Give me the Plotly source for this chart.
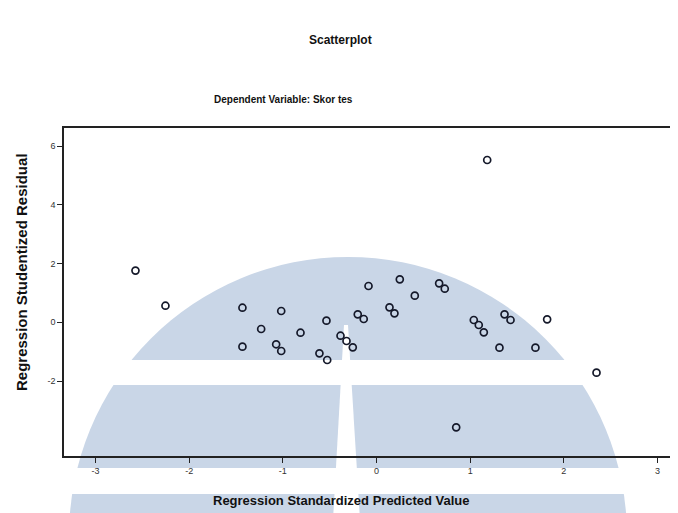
import plotly.graph_objects as go

# Data
predicted = [-2.573, -2.253, -1.431, -1.431, -1.231, -1.071, -1.017, -1.017, -0.811,
             -0.609, -0.526, -0.534, -0.384, -0.320, -0.253, -0.200, -0.136, -0.085,
             0.139, 0.192, 0.249, 0.409, 0.669, 0.729, 1.039, 1.092, 1.146, 1.182,
             0.851, 1.313, 1.367, 1.431, 1.697, 1.822, 2.349]
residual = [1.76, 0.563, 0.495, -0.832, -0.23, -0.75, -0.979, 0.383, -0.356,
            -1.057, -1.285, 0.053, -0.458, -0.638, -0.853, 0.271, 0.111, 1.234,
            0.509, 0.305, 1.462, 0.904, 1.326, 1.142, 0.077, -0.094, -0.342, 5.523,
            -3.576, -0.866, 0.271, 0.077, -0.866, 0.100, -1.717]
x_ticks = [-3, -2, -1, 0, 1, 2, 3]
y_ticks = [-2, 0, 2, 4, 6]

OFF = 8  # page body margin
W, H = 678 - OFF, 513 - OFF
L, R, T, B = 64 - OFF, 678 - OFF, 128 - OFF, 456 - OFF  # plot area in figure pixels


def px(xp):
    return (xp - OFF - L) / (R - L)


def py(yp):
    return (B - (yp - OFF)) / (B - T)


fig = go.Figure()
fig.add_trace(go.Scatter(
    x=predicted, y=residual, mode="markers",
    marker=dict(symbol="circle-open", size=7, color="#15192a",
                line=dict(width=1.7, color="#15192a")),
    hoverinfo="x+y", showlegend=False))

# faint watermark behind the chart
wm = "#c9d6e7"
shapes = [
    dict(type="circle", xref="paper", yref="paper", layer="below",
         x0=px(69), x1=px(627), y0=py(815), y1=py(257),
         fillcolor=wm, line=dict(width=0)),
    dict(type="rect", xref="paper", yref="paper", layer="below",
         x0=px(40), x1=px(660), y0=py(385), y1=py(360),
         fillcolor="white", line=dict(width=0)),
    dict(type="rect", xref="paper", yref="paper", layer="below",
         x0=px(40), x1=px(660), y0=py(494), y1=py(468),
         fillcolor="white", line=dict(width=0)),
    dict(type="path", xref="paper", yref="paper", layer="below",
         path=f"M {px(344)},{py(325)} L {px(348)},{py(325)} L {px(360)},{py(520)} L {px(333)},{py(520)} Z",
         fillcolor="white", line=dict(width=0)),
]

font = "Liberation Sans, Arial, sans-serif"
common = dict(xref="paper", yref="paper", showarrow=False, xanchor="center", yanchor="middle")
ann = [
    dict(text="<b>Scatterplot</b>", x=px(340), y=py(40),
         font=dict(family=font, size=12, color="#111"), **common),
    dict(text="<b>Dependent Variable: Skor tes</b>", x=px(283), y=py(100),
         font=dict(family=font, size=10, color="#111"), **common),
    dict(text="<b>Regression Standardized Predicted Value</b>", x=px(341), y=py(500),
         font=dict(family=font, size=13, color="#111"), **common),
    dict(text="<b>Regression Studentized Residual</b>", x=px(21), y=py(272), textangle=-90,
         font=dict(family=font, size=15, color="#111"), **common),
]

fig.update_layout(
    width=W, height=H,
    margin=dict(l=L, r=W - R, t=T, b=H - B, pad=0),
    paper_bgcolor="white", plot_bgcolor="rgba(0,0,0,0)",
    shapes=shapes, annotations=ann, showlegend=False,
    xaxis=dict(range=[-3.336, 3.219], tickvals=x_ticks, ticktext=[str(v) for v in x_ticks],
               showgrid=False, zeroline=False, showline=True, linecolor="#222", linewidth=1.5,
               mirror=True, ticks="outside", ticklen=5, tickcolor="#222",
               tickfont=dict(family=font, size=9, color="#333")),
    yaxis=dict(range=[-4.553, 6.613], tickvals=y_ticks, ticktext=[str(v) for v in y_ticks],
               showgrid=False, zeroline=False, showline=True, linecolor="#222", linewidth=1.5,
               ticks="outside", ticklen=5, tickcolor="#222",
               tickfont=dict(family=font, size=9, color="#333")),
)

fig.write_html("out.html")
